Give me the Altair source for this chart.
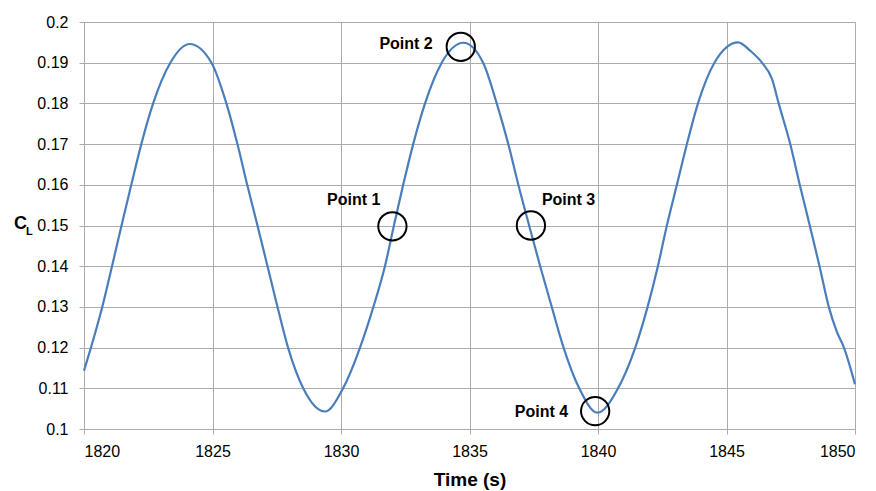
import altair as alt
import pandas as pd

# ---- data ----
time_s = [1820.00, 1820.27, 1820.71, 1821.09, 1821.46, 1821.84, 1822.23, 1822.69, 1823.36, 1824.11,
          1824.96, 1825.54, 1825.97, 1826.35, 1826.75, 1827.14, 1827.53, 1827.94, 1828.53, 1829.37,
          1830.08, 1830.74, 1831.26, 1831.71, 1832.06, 1832.42, 1832.81, 1833.27, 1833.92, 1834.76,
          1835.53, 1836.06, 1836.51, 1836.90, 1837.32, 1837.75, 1838.20, 1838.66, 1839.27, 1839.98,
          1840.78, 1841.45, 1841.93, 1842.33, 1842.68, 1843.07, 1843.46, 1843.89, 1844.53, 1845.45,
          1845.93, 1846.38, 1846.77, 1847.03, 1847.48, 1847.85, 1848.24, 1848.62, 1848.98, 1849.28,
          1849.57, 1850.00]
cl_vals = [0.1143, 0.12, 0.13, 0.14, 0.15, 0.16, 0.17, 0.18, 0.19, 0.1946,
           0.19, 0.18, 0.17, 0.16, 0.15, 0.14, 0.13, 0.12, 0.11, 0.1043,
           0.11, 0.12, 0.13, 0.14, 0.15, 0.16, 0.17, 0.18, 0.19, 0.1949,
           0.19, 0.18, 0.17, 0.16, 0.15, 0.14, 0.13, 0.12, 0.11, 0.1040,
           0.11, 0.12, 0.13, 0.14, 0.15, 0.16, 0.17, 0.18, 0.19, 0.1950,
           0.1929, 0.19, 0.1860, 0.18, 0.17, 0.16, 0.15, 0.14, 0.13, 0.1241,
           0.12, 0.1110]

point_labels = ["Point 1", "Point 2", "Point 3", "Point 4"]
point_time = [1832.0, 1834.66, 1837.39, 1839.89]
point_cl = [0.1498, 0.1939, 0.1500, 0.1044]

x_ticks = [1820, 1825, 1830, 1835, 1840, 1845, 1850]
y_ticks = [0.1, 0.11, 0.12, 0.13, 0.14, 0.15, 0.16, 0.17, 0.18, 0.19, 0.2]

FONT = "Liberation Sans"
GRID = "#ababab"

df = pd.DataFrame({"t": time_s, "cl": cl_vals})
pts = pd.DataFrame({"label": point_labels, "t": point_time, "cl": point_cl})

xscale = alt.Scale(domain=[1820, 1850], nice=False, zero=False)
yscale = alt.Scale(domain=[0.1, 0.2], nice=False, zero=False)

line = alt.Chart(df).mark_line(color="#4A7EBB", strokeWidth=2.2, interpolate="monotone").encode(
    x=alt.X("t:Q", scale=xscale,
            axis=alt.Axis(values=x_ticks, format="d", title="Time (s)", grid=True,
                          gridColor=GRID, domainColor=GRID, tickColor=GRID, tickSize=5,
                          labelFont=FONT, labelFontSize=16, labelColor="#000000", labelPadding=9,
                          titleFont=FONT, titleFontSize=19, titleFontWeight="bold",
                          titleColor="#000000", titlePadding=11)),
    y=alt.Y("cl:Q", scale=yscale,
            axis=alt.Axis(values=y_ticks, format="~g", title=None, grid=True,
                          gridColor=GRID, domainColor=GRID, tickColor=GRID, tickSize=5,
                          labelFont=FONT, labelFontSize=16, labelColor="#000000", labelPadding=11)),
)

circles = alt.Chart(pts).mark_point(shape="circle", size=800, filled=False,
                                    color="#000000", strokeWidth=2, opacity=1).encode(
    x=alt.X("t:Q", scale=xscale), y=alt.Y("cl:Q", scale=yscale))

label_style = {
    "Point 1": dict(align="right", dx=-12, dy=-26),
    "Point 2": dict(align="right", dx=-28, dy=-3),
    "Point 3": dict(align="left", dx=11, dy=-26),
    "Point 4": dict(align="right", dx=-27, dy=1),
}
texts = []
for lab in point_labels:
    st = label_style[lab]
    texts.append(
        alt.Chart(pts).transform_filter(alt.datum.label == lab).mark_text(
            font=FONT, fontSize=16, fontWeight="bold", color="#000000",
            baseline="middle", **st).encode(
            x=alt.X("t:Q", scale=xscale), y=alt.Y("cl:Q", scale=yscale), text="label:N")
    )

# y-axis title C with subscript L
ytitle = alt.Chart(pd.DataFrame({"s": ["C"]})).mark_text(
    font=FONT, fontSize=18, fontWeight="bold", color="#000000", align="left", baseline="middle").encode(
    x=alt.value(-70), y=alt.value(202), text="s:N")
ysub = alt.Chart(pd.DataFrame({"s": ["L"]})).mark_text(
    font=FONT, fontSize=11, fontWeight="bold", color="#000000", align="left", baseline="middle").encode(
    x=alt.value(-58), y=alt.value(210), text="s:N")

chart = alt.layer(line, circles, *texts, ytitle, ysub).properties(
    width=771, height=407,
    padding={"left": 76, "top": 14, "right": 13, "bottom": 62},
    autosize=alt.AutoSizeParams(type="none"),
).configure_view(stroke=None).configure(background="white")

chart.save("out.html", embed_options={"renderer": "svg", "actions": False})
